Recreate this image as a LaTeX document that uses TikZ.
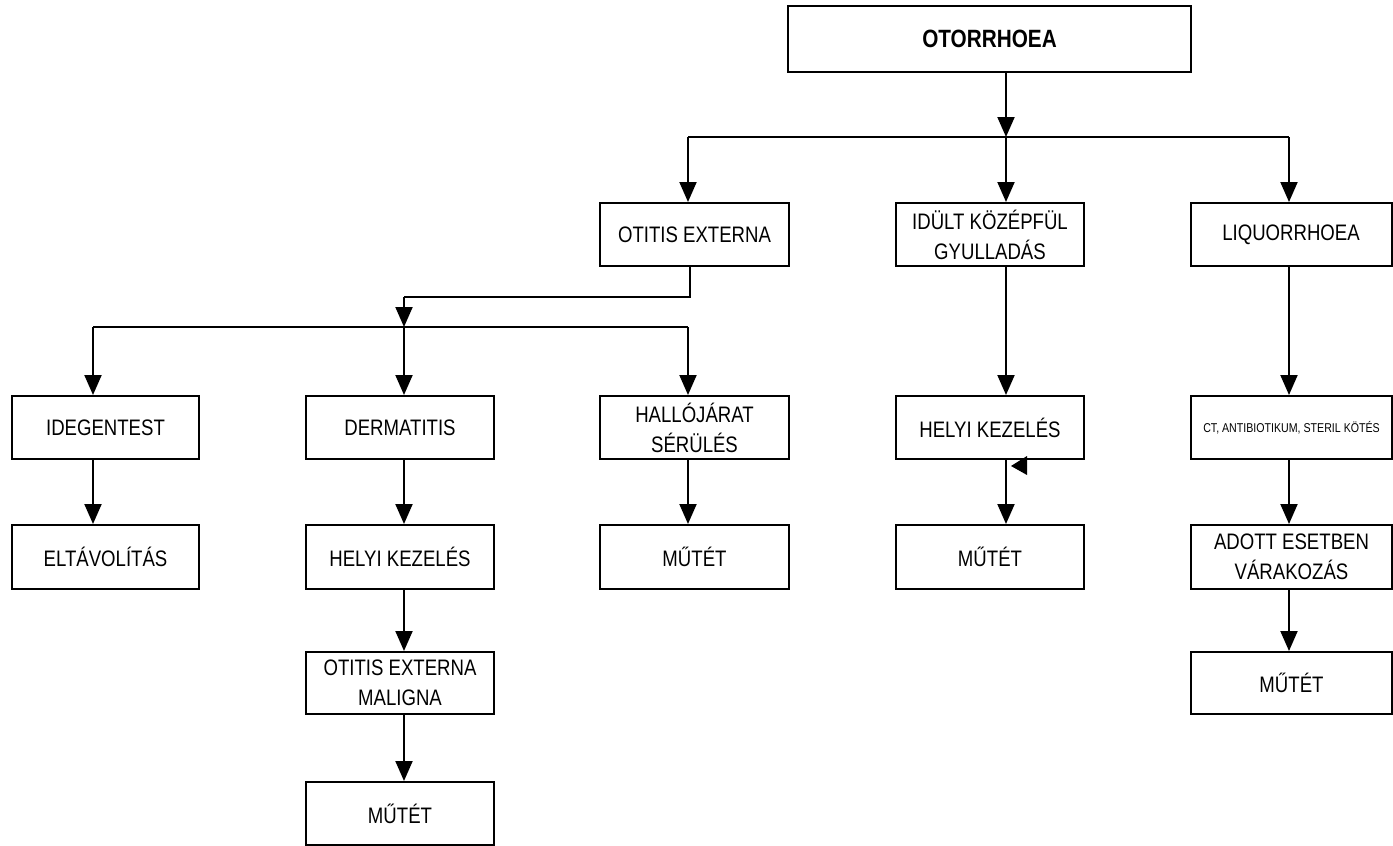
\documentclass[tikz,border=0pt]{standalone}
\usepackage{fontspec}
\setmainfont{Liberation Sans}[FakeStretch=0.83]
\usetikzlibrary{arrows.meta}
\begin{document}
\begin{tikzpicture}[x=0.5pt,y=-0.5pt,
  box/.style={draw, line width=1pt, inner sep=0pt, align=center,
    font=\fontsize{11.2}{15}\selectfont},
  wA/.style={minimum width=93.5pt},
  wB/.style={minimum width=94pt},
  wE/.style={minimum width=100.5pt},
  line/.style={line width=1pt},
  arr/.style={line width=1pt, -{Triangle[length=10pt,width=8.5pt]}}]
\useasboundingbox (0,0) rectangle (1393,846);

% column positions of the vertical connectors
\coordinate (xA) at (93,0);
\coordinate (xB) at (404,0);
\coordinate (xC) at (688,0);
\coordinate (xD) at (1006,0);
\coordinate (xE) at (1289,0);
\coordinate (busTop) at (1006,137);
\coordinate (busLow) at (404,327);
\coordinate (bend) at (690,297);

% root
\node[box, minimum width=201.5pt, minimum height=33pt,
  font=\fontsize{12.5}{15}\selectfont\bfseries] (root) at (989.5,39) {OTORRHOEA};

% second level
\node[box, minimum width=94.5pt, minimum height=31.5pt] (oe) at (694.5,234.5) {OTITIS EXTERNA};
\node[box, wB, minimum height=31.5pt] (kf) at (990,234.5) {IDÜLT KÖZÉPFÜL\\GYULLADÁS};
\node[box, wE, minimum height=31.5pt] (liq) at (1291,234.5) {LIQUORRHOEA};

% third level
\node[box, wA, minimum height=31.5pt] (ideg) at (105.5,427.5) {IDEGENTEST};
\node[box, wB, minimum height=31.5pt] (derm) at (400,427.5) {DERMATITIS};
\node[box, minimum width=94.5pt, minimum height=31.5pt] (hall) at (694.5,427.5) {HALLÓJÁRAT\\SÉRÜLÉS};
\node[box, wB, minimum height=31.5pt] (hk2) at (990,427.5) {HELYI KEZELÉS};
\node[box, wE, minimum height=31.5pt, font=\fontsize{6.4}{8}\selectfont] (ct) at (1291.5,427.5) {CT, ANTIBIOTIKUM, STERIL KÖTÉS};

% fourth level
\node[box, wA, minimum height=32pt] (elt) at (105.5,557) {ELTÁVOLÍTÁS};
\node[box, wB, minimum height=32pt] (hk1) at (400,557) {HELYI KEZELÉS};
\node[box, minimum width=94.5pt, minimum height=32pt] (mC) at (694.5,557) {MŰTÉT};
\node[box, wB, minimum height=32pt] (mD) at (990,557) {MŰTÉT};
\node[box, wE, minimum height=32pt] (adott) at (1291.5,557) {ADOTT ESETBEN\\VÁRAKOZÁS};

% fifth and sixth level
\node[box, wB, minimum height=31pt] (mal) at (400,683) {OTITIS EXTERNA\\MALIGNA};
\node[box, wE, minimum height=31pt] (mE) at (1291.5,683) {MŰTÉT};
\node[box, wB, minimum height=31.5pt] (mB) at (400,813.5) {MŰTÉT};

% root to second level
\draw[arr] (root.south -| xD) -- (busTop);
\draw[line] (busTop -| xC) -- (busTop -| xE);
\draw[arr] (busTop -| xC) -- (oe.north -| xC);
\draw[arr] (busTop) -- (kf.north -| xD);
\draw[arr] (busTop -| xE) -- (liq.north -| xE);

% otitis externa branch
\draw[line] (oe.south -| bend) -- (bend) -- (bend -| busLow);
\draw[arr] (bend -| busLow) -- (busLow);
\draw[line] (busLow -| xA) -- (busLow -| xC);
\draw[arr] (busLow -| xA) -- (ideg.north -| xA);
\draw[arr] (busLow) -- (derm.north -| xB);
\draw[arr] (busLow -| xC) -- (hall.north -| xC);
\draw[arr] (ideg.south -| xA) -- (elt.north -| xA);
\draw[arr] (derm.south -| xB) -- (hk1.north -| xB);
\draw[arr] (hk1.south -| xB) -- (mal.north -| xB);
\draw[arr] (mal.south -| xB) -- (mB.north -| xB);
\draw[arr] (hall.south -| xC) -- (mC.north -| xC);

% middle ear branch
\draw[arr] (kf.south -| xD) -- (hk2.north -| xD);
\draw[arr] (hk2.south -| xD) -- (mD.north -| xD);
\fill (1011,466) -- (1027,456) -- (1027,475) -- cycle;

% liquorrhoea branch
\draw[arr] (liq.south -| xE) -- (ct.north -| xE);
\draw[arr] (ct.south -| xE) -- (adott.north -| xE);
\draw[arr] (adott.south -| xE) -- (mE.north -| xE);
\end{tikzpicture}
\end{document}
